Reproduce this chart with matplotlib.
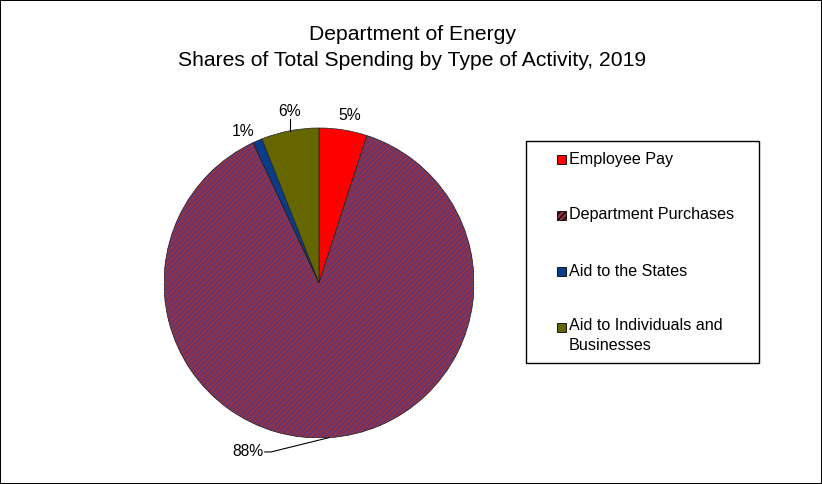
import matplotlib
matplotlib.use("Agg")
import matplotlib.pyplot as plt
from matplotlib.patches import Rectangle, Wedge
import numpy as np

plt.rcParams['font.family'] = ['Liberation Sans', 'DejaVu Sans']
plt.rcParams['hatch.linewidth'] = 0.9

title_lines = ["Department of Energy", "Shares of Total Spending by Type of Activity, 2019"]
categories = ["Employee Pay", "Department Purchases", "Aid to the States",
              "Aid to Individuals and\nBusinesses"]
shares = [5, 88, 1, 6]
pct_labels = ["5%", "88%", "1%", "6%"]

colors = ["#ff0000", "#943040", "#0a3c8c", "#666600"]
hatches = [None, "//////", None, None]
hatch_color = "#4a3c94"

W, H = 822, 484
fig = plt.figure(figsize=(W / 100, H / 100), dpi=100, linewidth=1.2, edgecolor="black")

# pie axes: center (319,283), radius 155 px
cx, cy, r = 319, 283, 155
ax = fig.add_axes([(cx - r) / W, (H - cy - r) / H, 2 * r / W, 2 * r / H])
wedges, _ = ax.pie(shares, colors=colors, startangle=90, counterclock=False,
                   radius=1.0, wedgeprops=dict(edgecolor="#202020", linewidth=0.5))
for w, h in zip(wedges, hatches):
    if h:
        w.set_hatch(h)
        w.set_edgecolor(hatch_color)
        w.set_linewidth(0.0)
        ow = Wedge(w.center, w.r, w.theta1, w.theta2, facecolor="none",
                   edgecolor="#202020", linewidth=0.5)
        ax.add_patch(ow)
ax.set_xlim(-1, 1)
ax.set_ylim(-1, 1)
ax.set_aspect("equal")
ax.axis("off")

# label positions (data coords)
label_pos = [(0.20, 1.08), (-0.46, -1.09), (-0.49, 0.98), (-0.19, 1.105)]
leader = [False, True, False, True]
for w, lab, pos, ld in zip(wedges, pct_labels, label_pos, leader):
    mid = np.deg2rad((w.theta1 + w.theta2) / 2)
    ex, ey = np.cos(mid), np.sin(mid)
    ax.text(pos[0], pos[1], lab, ha="center", va="center", fontsize=11.3, clip_on=False)
    if ld:
        if pos[1] > 0:
            ax.plot([ex, ex], [pos[1] - 0.05, ey], color="black", lw=0.8, clip_on=False)
        else:
            x0 = pos[0] + 0.11
            ax.plot([x0, x0 + 0.04, ex], [pos[1], pos[1], ey], color="black", lw=0.8, clip_on=False)

# title
fig.text(412 / W, 1 - 35 / H, title_lines[0], ha="center", va="center", fontsize=15.2)
fig.text(412 / W, 1 - 61 / H, title_lines[1], ha="center", va="center", fontsize=15.2)

# legend box
lx0, ly0, lx1, ly1 = 526, 141, 759, 363
fig.patches.append(Rectangle((lx0 / W, 1 - ly1 / H), (lx1 - lx0) / W, (ly1 - ly0) / H,
                             transform=fig.transFigure, facecolor="white",
                             edgecolor="black", linewidth=1))
ys = [159, 215, 271, 327]
for lab, col, h, y in zip(categories, colors, hatches, ys):
    s = 9
    fig.patches.append(Rectangle((557 / W, 1 - (y + s / 2) / H), s / W, s / H,
                                 transform=fig.transFigure, facecolor=col,
                                 hatch=h, edgecolor="black", linewidth=0.6))
    if "\n" in lab:
        fig.text(569 / W, 1 - (y - 9) / H, lab, ha="left", va="top", fontsize=11.6, linespacing=1.38)
    else:
        fig.text(569 / W, 1 - y / H, lab, ha="left", va="center", fontsize=11.6)

fig.savefig("out.png", dpi=100, edgecolor=fig.get_edgecolor())
